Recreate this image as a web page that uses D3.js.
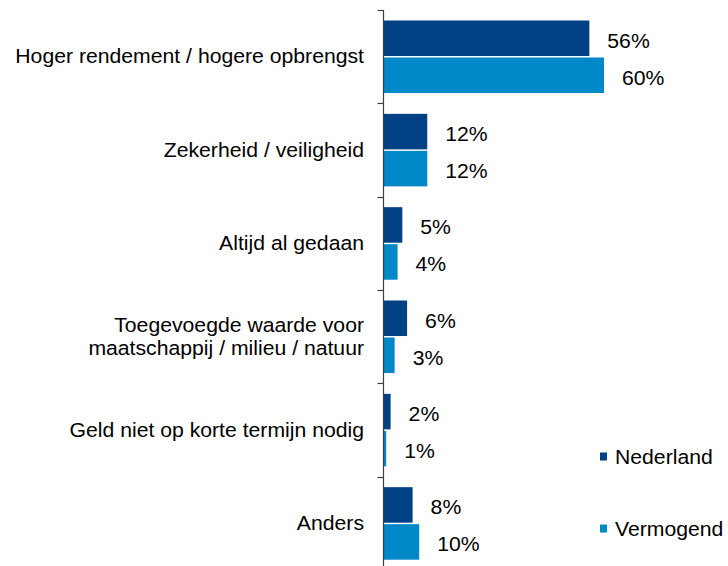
<!DOCTYPE html>
<html>
<head>
<meta charset="utf-8">
<script src="https://cdn.jsdelivr.net/npm/d3@7"></script>
<style>
  html, body { margin: 0; padding: 0; background: #fff; }
  svg { display: block; font-family: "Liberation Sans", Arial, sans-serif; }
</style>
</head>
<body>
<svg id="chart" width="728" height="566"></svg>
<script>
// ---- data ----
const categories = [
  ["Hoger rendement / hogere opbrengst"],
  ["Zekerheid / veiligheid"],
  ["Altijd al gedaan"],
  ["Toegevoegde waarde voor", "maatschappij / milieu / natuur"],
  ["Geld niet op korte termijn nodig"],
  ["Anders"]
];
const seriesNames = ["Nederland", "Vermogend"];
const nederland = [56, 11.8, 5, 6.3, 1.8, 7.8];
const vermogend = [60, 11.8, 3.7, 2.9, 0.6, 9.6];
const nederlandLabels = ["56%", "12%", "5%", "6%", "2%", "8%"];
const vermogendLabels = ["60%", "12%", "4%", "3%", "1%", "10%"];
const colors = ["#004185", "#0088C9"];

// ---- layout ----
const svg = d3.select("#chart");
const fontSize = 19.5;
const sx = 1.087;            // horizontal stretch of the text
const capHalf = 7;           // half cap height, for baseline placement
const catKeys = categories.map((c, i) => i);

const x = d3.scaleLinear().domain([0, 60]).range([384, 604]);
const y = d3.scaleBand().domain(catKeys).range([10, 570]).padding(0);
const ySub = d3.scaleBand().domain(seriesNames)
  .range([10.5, y.bandwidth() - 10.3]).paddingInner(0.04);

function addText(parent, tx, ty, str, anchor) {
  return parent.append("text")
    .attr("transform", `translate(${tx},${ty}) scale(${sx},1)`)
    .attr("text-anchor", anchor || "start")
    .attr("font-size", fontSize)
    .attr("fill", "#000")
    .text(str);
}

const seriesData = [
  { name: "Nederland", values: nederland, labels: nederlandLabels },
  { name: "Vermogend", values: vermogend, labels: vermogendLabels }
];

// bars
seriesData.forEach((s, si) => {
  const g = svg.append("g");
  g.selectAll("rect").data(s.values).enter().append("rect")
    .attr("x", x(0))
    .attr("y", (d, i) => y(i) + ySub(s.name))
    .attr("width", d => x(d) - x(0))
    .attr("height", ySub.bandwidth())
    .attr("fill", colors[si]);
  s.values.forEach((d, i) => {
    const cy = y(i) + ySub(s.name) + ySub.bandwidth() / 2;
    addText(g, x(d) + 18, cy + 2.5 + capHalf, s.labels[i]);
  });
});

// axis line and ticks at category boundaries
const axisX = 383.5;
const axis = svg.append("g").attr("stroke", "#404040").attr("stroke-width", 1.2);
axis.append("line")
  .attr("x1", axisX).attr("x2", axisX)
  .attr("y1", y.range()[0]).attr("y2", y.range()[1]);
const boundaries = catKeys.map(k => y(k)).concat([y.range()[1]]);
axis.selectAll("line.tick").data(boundaries).enter().append("line")
  .attr("class", "tick")
  .attr("x1", axisX - 6).attr("x2", axisX)
  .attr("y1", d => Math.round(d) + 0.5).attr("y2", d => Math.round(d) + 0.5);

// category labels
const lineH = 23.3;
categories.forEach((lines, i) => {
  const cy = y(i) + y.bandwidth() / 2 - 0.3;
  lines.forEach((ln, li) => {
    addText(svg, 364, cy + capHalf - (lines.length - 1) * lineH / 2 + li * lineH, ln, "end");
  });
});

// legend
const legendY = [456.5, 528.5];
seriesNames.forEach((n, i) => {
  svg.append("rect")
    .attr("x", 600).attr("y", legendY[i] - 4)
    .attr("width", 7).attr("height", 8)
    .attr("fill", colors[i]);
  addText(svg, 615, legendY[i] + capHalf, n);
});
</script>
</body>
</html>
